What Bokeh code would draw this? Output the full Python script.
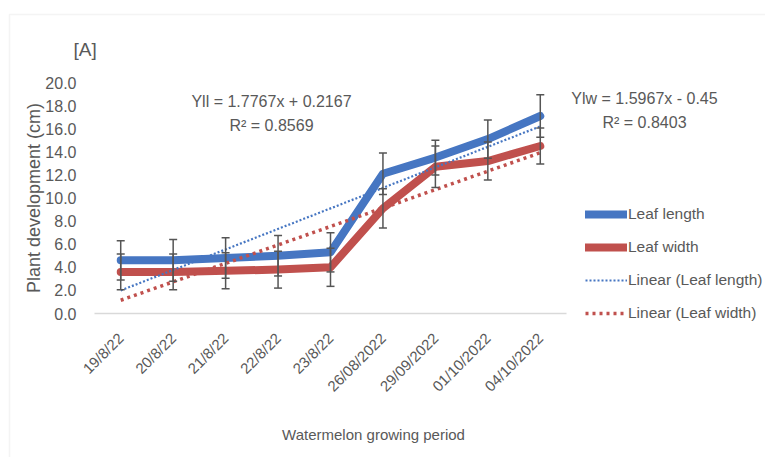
from bokeh.plotting import figure
from bokeh.models import (ColumnDataSource, Whisker, TeeHead, Label, Legend,
                          LegendItem, Range1d, FixedTicker,
                          NumeralTickFormatter, BoxAnnotation)
from bokeh.embed import file_html
from bokeh.resources import INLINE
from math import pi

# Sampling dates
dates = ["19/8/22", "20/8/22", "21/8/22", "22/8/22", "23/8/22",
         "26/08/2022", "29/09/2022", "01/10/2022", "04/10/2022"]

# Mean leaf length / width (cm) and their error margins
leaf_length = [4.6, 4.6, 4.8, 5.0, 5.3, 12.1, 13.5, 15.1, 17.1]
leaf_width = [3.6, 3.6, 3.7, 3.8, 4.0, 9.1, 12.7, 13.2, 14.5]
length_err = [1.7, 1.8, 1.75, 1.75, 1.7, 1.8, 1.5, 1.65, 1.85]
width_err = [1.55, 1.55, 1.55, 1.6, 1.65, 1.7, 1.8, 1.65, 1.55]

# Linear fits stated on the chart
ll_slope, ll_intercept, ll_r2 = 1.7767, 0.2167, 0.8569
lw_slope, lw_intercept, lw_r2 = 1.5967, -0.45, 0.8403

y_ticks = [0, 2, 4, 6, 8, 10, 12, 14, 16, 18, 20]
y_max = 20

FONT = "Liberation Sans, Arial, sans-serif"
TEXT = "#595959"
BLUE = "#4676c2"
RED = "#c0504d"

W, H = 765, 457
# plot area in canvas pixels
LEFT, RIGHT, TOP, BOTTOM = 94, 566, 82, 313

n = len(dates)
xs = list(range(1, n + 1))          # category positions 1..n
xw = (RIGHT - LEFT) / n             # pixels per category
yh = (BOTTOM - TOP) / y_max         # pixels per cm

def dx(px):
    return 0.5 + (px - LEFT) / xw

def dy(py):
    return (BOTTOM - py) / yh

# the frame spans the whole canvas so that every annotation stays visible
p = figure(width=W, height=H,
           x_range=Range1d(dx(0), dx(W)), y_range=Range1d(dy(H), dy(0)),
           output_backend="svg", toolbar_location=None,
           min_border=0, min_border_left=0, min_border_right=0,
           min_border_top=0, min_border_bottom=0)
p.outline_line_color = None
p.xgrid.grid_line_color = None
p.ygrid.grid_line_color = None
p.background_fill_color = "white"
p.border_fill_color = "white"

# y axis pinned to the left edge of the plot area
p.yaxis.fixed_location = 0.5
p.yaxis.bounds = (0, y_max)
p.yaxis.ticker = FixedTicker(ticks=y_ticks)
p.yaxis.formatter = NumeralTickFormatter(format="0.0")
p.yaxis.axis_line_color = None
p.yaxis.major_tick_line_color = None
p.yaxis.minor_tick_line_color = None
p.yaxis.major_label_text_font = FONT
p.yaxis.major_label_text_font_size = "16px"
p.yaxis.major_label_text_color = TEXT
p.yaxis.major_label_standoff = 12
p.yaxis.axis_label = "Plant development (cm)"
p.yaxis.axis_label_text_font = FONT
p.yaxis.axis_label_text_font_size = "18px"
p.yaxis.axis_label_text_font_style = "normal"
p.yaxis.axis_label_text_color = TEXT
p.yaxis.axis_label_standoff = -2

# category axis along y = 0
p.xaxis.fixed_location = 0
p.xaxis.bounds = (0.5, n + 0.5)
p.xaxis.ticker = FixedTicker(ticks=xs)
p.xaxis.major_label_overrides = {x: d for x, d in zip(xs, dates)}
p.xaxis.axis_line_color = "#d9d9d9"
p.xaxis.axis_line_width = 1.5
p.xaxis.major_tick_line_color = None
p.xaxis.minor_tick_line_color = None
p.xaxis.major_label_orientation = pi / 4
p.xaxis.major_label_text_font = FONT
p.xaxis.major_label_text_font_size = "15px"
p.xaxis.major_label_text_color = TEXT
p.xaxis.major_label_standoff = 16

# data lines
src = ColumnDataSource(dict(x=xs, ll=leaf_length, lw=leaf_width,
                            ll_up=[v + e for v, e in zip(leaf_length, length_err)],
                            ll_lo=[v - e for v, e in zip(leaf_length, length_err)],
                            lw_up=[v + e for v, e in zip(leaf_width, width_err)],
                            lw_lo=[v - e for v, e in zip(leaf_width, width_err)]))

r_ll = p.line("x", "ll", source=src, line_color=BLUE, line_width=8,
              line_cap="round", line_join="round")
r_lw = p.line("x", "lw", source=src, line_color=RED, line_width=8,
              line_cap="round", line_join="round")

# trend lines from the fitted equations
t_ll = p.line([xs[0], xs[-1]], [ll_slope * xs[0] + ll_intercept, ll_slope * xs[-1] + ll_intercept],
              line_color=BLUE, line_width=2.2, line_dash="2 2")
t_lw = p.line([xs[0], xs[-1]], [lw_slope * xs[0] + lw_intercept, lw_slope * xs[-1] + lw_intercept],
              line_color=RED, line_width=3.5, line_dash="3 4")

# error bars
for up, lo in (("ll_up", "ll_lo"), ("lw_up", "lw_lo")):
    wh = Whisker(base="x", upper=up, lower=lo, source=src, line_color="#555555",
                 line_width=1.5, level="overlay",
                 upper_head=TeeHead(size=8, line_color="#555555", line_width=1.5),
                 lower_head=TeeHead(size=8, line_color="#555555", line_width=1.5))
    p.add_layout(wh)

# text annotations
def txt(s, px, py, size="16px", align="center"):
    p.add_layout(Label(x=dx(px), y=dy(py), text=s, text_font=FONT, text_font_size=size,
                       text_color=TEXT, text_align=align, text_baseline="middle"))

txt(f"Yll = {ll_slope}x + {ll_intercept}", 271, 101)
txt(f"R\u00b2 = {ll_r2}", 271, 125)
txt(f"Ylw = {lw_slope}x - {abs(lw_intercept)}", 644, 98)
txt(f"R\u00b2 = {lw_r2}", 644, 122)
txt("[A]", 73, 49, size="19px", align="left")
txt("Watermelon growing period", 373, 434, size="15px")

# legend
legend = Legend(items=[LegendItem(label="Leaf length", renderers=[r_ll]),
                       LegendItem(label="Leaf width", renderers=[r_lw]),
                       LegendItem(label="Linear (Leaf length)", renderers=[t_ll]),
                       LegendItem(label="Linear (Leaf width)", renderers=[t_lw])],
                location=(585, H - 323), orientation="vertical",
                glyph_width=42, glyph_height=20, label_height=20,
                spacing=13, padding=0, margin=0, label_standoff=1,
                label_text_font=FONT, label_text_font_size="15.5px",
                label_text_color=TEXT, border_line_color=None,
                background_fill_alpha=0)
p.add_layout(legend)

# outer chart border
p.add_layout(BoxAnnotation(left=dx(9), right=dx(W + 50), top=dy(14), bottom=dy(H + 50),
                           fill_alpha=0, line_color="#d9d9d9", line_width=1.5,
                           level="underlay"))

open("out.html", "w").write(file_html(p, INLINE))
